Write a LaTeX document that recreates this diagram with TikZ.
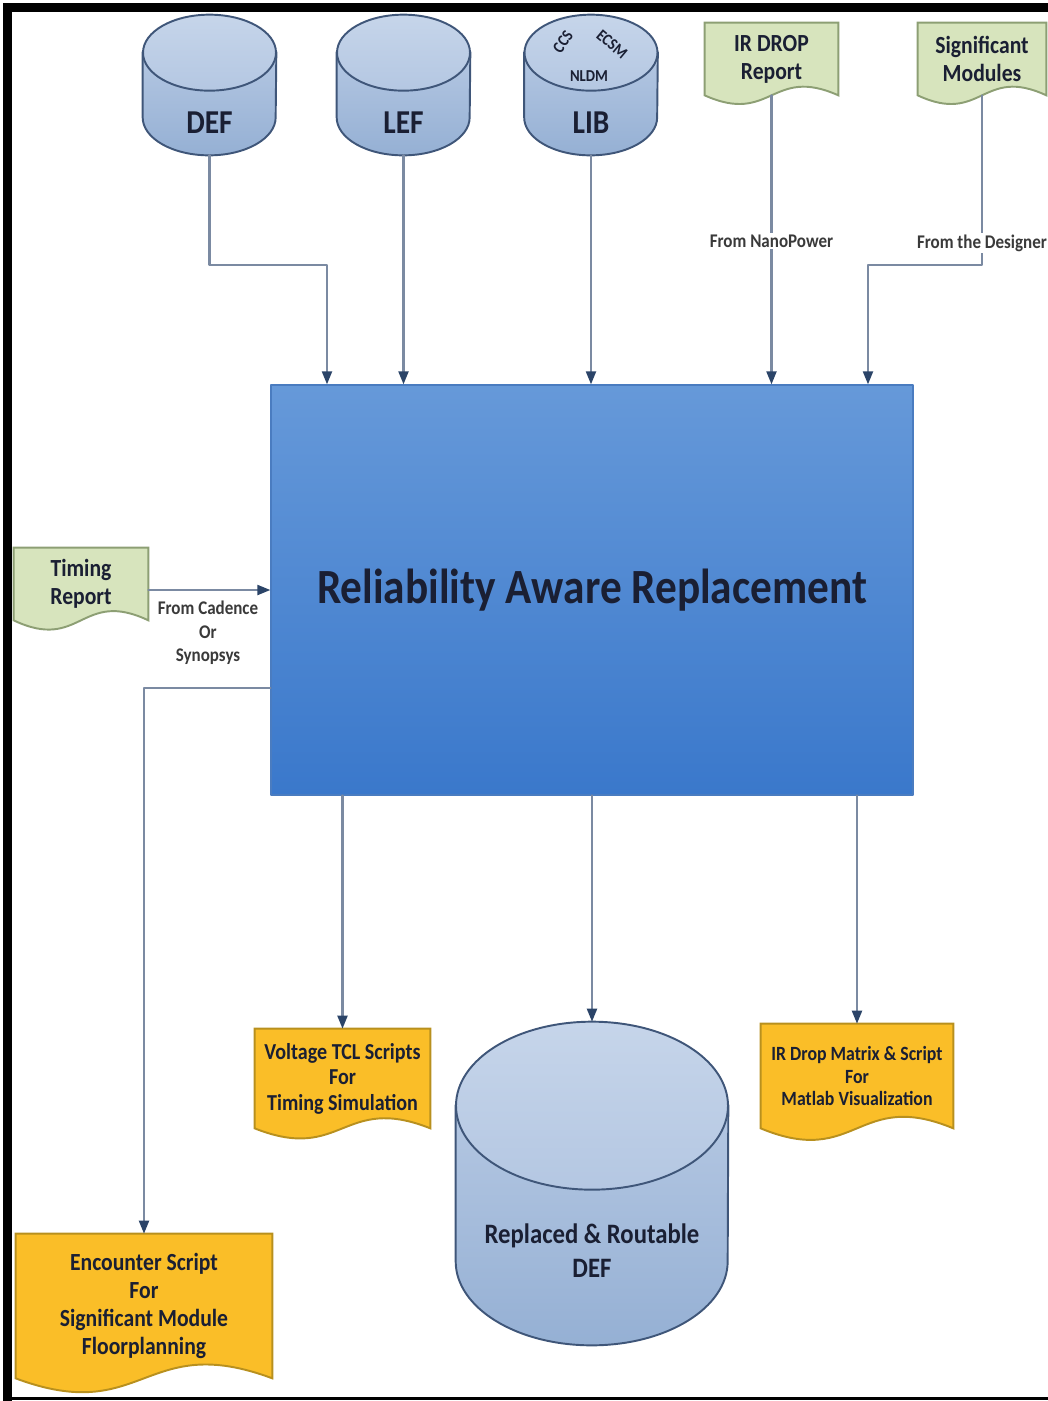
\documentclass[tikz,border=0pt]{standalone}
\usepackage{fontspec}
\setmainfont{Carlito}[FakeStretch=0.88]
\usetikzlibrary{arrows.meta,calc,backgrounds,positioning}
\definecolor{wwzzdz}{rgb}{0.4,0.6,0.851}
\definecolor{taxycb}{rgb}{0.2275,0.4706,0.7961}
\definecolor{uaxcmq}{rgb}{0.2902,0.4863,0.7529}
\definecolor{cwdvea}{rgb}{0.7765,0.8353,0.9176}
\definecolor{buczeu}{rgb}{0.7059,0.7804,0.8863}
\definecolor{zvbqdu}{rgb}{0.5843,0.6902,0.8314}
\definecolor{tfvwxz}{rgb}{0.2471,0.3373,0.4745}
\definecolor{dxeubd}{rgb}{0.8431,0.8941,0.7412}
\definecolor{ydzfxu}{rgb}{0.5529,0.6235,0.4549}
\definecolor{fabesy}{rgb}{0.9804,0.7451,0.1569}
\definecolor{byzqre}{rgb}{0.7216,0.5647,0.1176}
\definecolor{xbyaas}{rgb}{0.4824,0.5412,0.6353}
\definecolor{sbuuwy}{rgb}{0.1686,0.2667,0.4078}
\definecolor{rarftt}{rgb}{0.102,0.1216,0.2}
\definecolor{tatata}{rgb}{0.2275,0.2275,0.2275}

\begin{document}
\begin{tikzpicture}[line cap=round,line join=round,>={Triangle[length=0.26cm,width=0.2cm,color=sbuuwy]},x=0.02cm,y=-0.02cm,
mainbox/.style={draw=uaxcmq,line width=0.8pt,top color=wwzzdz,bottom color=taxycb,minimum width=12.84cm,minimum height=8.2cm,inner sep=0pt,text=rarftt,font=\fontsize{28}{32}\selectfont\bfseries},
dbnode/.style={inner sep=0pt,minimum width=2.66cm,text height=2.38cm,text depth=0.42cm,text=rarftt,font=\fontsize{19}{22}\selectfont\bfseries},
docnode/.style={inner sep=0pt,align=center,text=rarftt,font=\fontsize{14}{16}\selectfont\bfseries},
small/.style={inner sep=0pt,text=rarftt,font=\fontsize{9.5}{11}\selectfont\bfseries},
lbl/.style={inner sep=1pt,fill=white,align=center,text=tatata,font=\fontsize{11}{13.3}\selectfont\bfseries},
arr/.style={->,draw=xbyaas,line width=1.2pt},
cylbody/.style={draw=tfvwxz,line width=1.1pt,top color=buczeu,bottom color=zvbqdu},
cyltop/.style={draw=tfvwxz,line width=1.1pt,top color=cwdvea,bottom color=buczeu},
greendoc/.style={draw=ydzfxu,line width=1.1pt,fill=dxeubd},
yellowdoc/.style={draw=byzqre,line width=1.1pt,fill=fabesy}]
%\draw [color=gray, step=50] (0,0) grid (1048,1401);
\useasboundingbox (0,0) rectangle (1048,1401);
\fill [black] (3,3) rectangle (1048,12);
\fill [black] (3,3) rectangle (12,1401);
\fill [black] (3,1397) rectangle (1048,1400);
% inputs
\node (def) [dbnode] at (209.5,85) {DEF};
\node (lef) [dbnode] at (403.5,85) {LEF};
\node (lib) [dbnode] at (591,85) {LIB};
\node (nldm) [small] at (589,76) {NLDM};
\node (ccs) [small,rotate=55] at (563,42) {CCS};
\node (ecsm) [small,rotate=-40] at (612,44) {ECSM};
\node (irdrop) [docnode,minimum width=2.66cm,minimum height=1.44cm] at (771.5,59) {IR DROP\\Report};
\node (sigmod) [docnode,minimum width=2.56cm,minimum height=1.44cm] at (982,59) {Significant\\Modules};
\node (timing) [docnode,minimum width=2.68cm,minimum height=1.44cm] at (81,584) {Timing\\Report};
\node (rar) [mainbox] at (592,590) {Reliability Aware Replacement};
% outputs
\node (voltage) [docnode,font=\fontsize{13}{14.5}\selectfont\bfseries,minimum width=3.5cm,minimum height=1.98cm] at (342.5,1078.5) {Voltage TCL Scripts\\For\\Timing Simulation};
\node (rrdef) [dbnode,minimum width=5.44cm,text height=5.12cm,text depth=1.34cm,font=\fontsize{16}{19.5}\selectfont\bfseries] at (592,1183.5) {\begin{tabular}[b]{@{}c@{}}Replaced \& Routable\\DEF\end{tabular}};
\node (irmat) [docnode,font=\fontsize{11.5}{13}\selectfont\bfseries,minimum width=3.84cm,minimum height=2.08cm] at (857,1076) {IR Drop Matrix \& Script\\For\\Matlab Visualization};
\node (encounter) [docnode,minimum width=5.12cm,minimum height=2.88cm] at (144,1306) {Encounter Script\\For\\Significant Module\\Floorplanning};
% connectors
\coordinate (k1) at (327,265);
\coordinate (k2) at (868,265);
\coordinate (k3) at (145,688);
\draw [arr] (def.south) |- (k1) -- (k1 |- rar.north);
\draw [arr] (lef.south) -- (lef.south |- rar.north);
\draw [arr] (lib.south) -- (lib.south |- rar.north);
\draw [arr] (irdrop.south) -- (irdrop.south |- rar.north);
\draw [arr] (sigmod.south) |- (k2) -- (k2 |- rar.north);
\draw [arr] (timing.east |- rar.west) -- (rar.west);
\draw [arr] (k3 -| rar.west) -| (encounter.north);
\draw [arr] (voltage.north |- rar.south) -- (voltage.north);
\draw [arr] (rar.south) -- (rrdef.north);
\draw [arr] (irmat.north |- rar.south) -- (irmat.north);
\node (fromnp) [lbl] at (771.5,241) {From NanoPower};
\node (fromdes) [lbl] at (982,243) {From the Designer};
\node (fromcad) [lbl] at (208,633) {From Cadence\\Or\\Synopsys};
% shapes
\begin{scope}[on background layer]
\draw [cylbody] ([yshift=-0.76cm]def.north west) -- ([yshift=0.76cm]def.south west) arc [start angle=180,end angle=0,x radius=66.5,y radius=38] -- ([yshift=-0.76cm]def.north east) -- cycle;
\draw [cyltop] ([yshift=-0.76cm]def.north) ellipse [x radius=66.5,y radius=38];
\draw [cylbody] ([yshift=-0.76cm]lef.north west) -- ([yshift=0.76cm]lef.south west) arc [start angle=180,end angle=0,x radius=66.5,y radius=38] -- ([yshift=-0.76cm]lef.north east) -- cycle;
\draw [cyltop] ([yshift=-0.76cm]lef.north) ellipse [x radius=66.5,y radius=38];
\draw [cylbody] ([yshift=-0.76cm]lib.north west) -- ([yshift=0.76cm]lib.south west) arc [start angle=180,end angle=0,x radius=66.5,y radius=38] -- ([yshift=-0.76cm]lib.north east) -- cycle;
\draw [cyltop] ([yshift=-0.76cm]lib.north) ellipse [x radius=66.5,y radius=38];
\draw [cylbody] ([yshift=-1.68cm]rrdef.north west) -- ([yshift=1.68cm]rrdef.south west) arc [start angle=180,end angle=0,x radius=136,y radius=84] -- ([yshift=-1.68cm]rrdef.north east) -- cycle;
\draw [cyltop] ([yshift=-1.68cm]rrdef.north) ellipse [x radius=136,y radius=84];
\draw [greendoc] (irdrop.north west) -- (irdrop.north east) -- (irdrop.south east) .. controls ($(irdrop.south)+(0,-30)$) and ($(irdrop.south)+(0,30)$) .. (irdrop.south west) -- cycle;
\draw [greendoc] (sigmod.north west) -- (sigmod.north east) -- (sigmod.south east) .. controls ($(sigmod.south)+(0,-30)$) and ($(sigmod.south)+(0,30)$) .. (sigmod.south west) -- cycle;
\draw [greendoc] (timing.north west) -- (timing.north east) -- (timing.south east) .. controls ($(timing.south)+(0,-32)$) and ($(timing.south)+(0,32)$) .. (timing.south west) -- cycle;
\draw [yellowdoc] (voltage.north west) -- (voltage.north east) -- (voltage.south east) .. controls ($(voltage.south)+(0,-35)$) and ($(voltage.south)+(0,35)$) .. (voltage.south west) -- cycle;
\draw [yellowdoc] (irmat.north west) -- (irmat.north east) -- (irmat.south east) .. controls ($(irmat.south)+(0,-40)$) and ($(irmat.south)+(0,40)$) .. (irmat.south west) -- cycle;
\draw [yellowdoc] (encounter.north west) -- (encounter.north east) -- (encounter.south east) .. controls ($(encounter.south)+(0,-48)$) and ($(encounter.south)+(0,48)$) .. (encounter.south west) -- cycle;
\end{scope}
\end{tikzpicture}
\end{document}
